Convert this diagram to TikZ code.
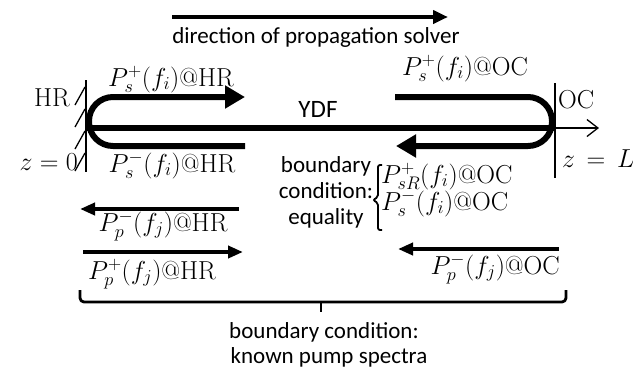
\RequirePackage{fix-cm}
\documentclass[tikz,border=0pt]{standalone}
\usepackage{fontspec}
\newfontfamily\carlito{Carlito}
\usetikzlibrary{arrows.meta}
\begin{document}
\begin{tikzpicture}[x=1pt,y=-1pt,
  mlab/.style={font=\fontsize{26}{30}\selectfont, inner sep=0pt},
  slab/.style={font=\carlito\fontsize{23}{27}\selectfont, inner sep=0pt},
  biglab/.style={font=\carlito\fontsize{25}{30}\selectfont, inner sep=0pt},
  sigline/.style={line width=6pt, -{Triangle[length=20pt,width=22pt]}},
  toparrow/.style={line width=4.5pt, -{Triangle[length=15pt,width=13pt]}},
  pump/.style={line width=4.5pt, -{Triangle[length=15pt,width=12pt]}},
  mirror/.style={line width=1.3pt},
  brk/.style={line width=2.8pt, line join=round}]
\useasboundingbox (0,0) rectangle (633,368);

% direction arrow
\coordinate (dirS) at (172,17);
\coordinate (dirE) at (448,17);
\draw[toparrow] (dirS) -- (dirE);
\node[slab, anchor=base] (dir) at (316,43) {direction of propagation solver};

% HR mirror
\coordinate (hrT) at (86,80);
\coordinate (hrB) at (86,172);
\draw[mirror] (hrT) -- (hrB);
\foreach \yy in {87,109,131,153} \draw[mirror] (85,\yy) -- ++(-10,18);

% OC mirror
\coordinate (ocT) at (555,83);
\coordinate (ocB) at (555,178);
\draw[mirror] (ocT) -- (ocB);

% fibre axis
\coordinate (axL) at (86,128);
\coordinate (axM) at (555,128);
\coordinate (axR) at (599,128);
\draw[line width=5.5pt] (axL) -- (axM);
\draw[mirror, -{Straight Barb[length=11pt,width=17pt]}] (axM) -- (axR);

% signal U-turns
\coordinate (lUb) at (245,146);
\coordinate (lUt) at (245,97);
\draw[sigline, rounded corners=24pt] (lUb) -- (89,146) -- (89,97) -- (lUt);
\coordinate (rUt) at (395,97);
\coordinate (rUb) at (396,146);
\draw[sigline, rounded corners=24pt] (rUt) -- (552,97) -- (552,146) -- (rUb);

\node[biglab, anchor=base] (ydf) at (318,117) {YDF};

% labels near mirrors
\node[mlab, anchor=base] (spHR) at (171,86) {$P_s^+(f_i)$@HR};
\node[mlab, anchor=base] (smHR) at (172,172) {$P_s^-(f_i)$@HR};
\node[mlab, anchor=base] (spOC) at (465,75) {$P_s^+(f_i)$@OC};
\node[mlab, anchor=base] (hr) at (52,106) {HR};
\node[mlab, anchor=base west] (oc) at (558,108) {OC};
\node[mlab, anchor=base east] (z0) at (78,170) {$z=0$};
\node[mlab, anchor=base west] (zL) at (562,167) {$z\,=\,L$};

% equality boundary condition
\node[slab, anchor=base] (bc1) at (326,172) {boundary};
\node[slab, anchor=base] (bc2) at (326,198) {condition:};
\node[slab, anchor=base] (bc3) at (326,224) {equality};
\draw[line width=1.8pt, rounded corners=2pt] (382,165) -- (378,165) -- (378,197) -- (373,200) -- (378,203) -- (378,230) -- (382,230);
\node[mlab, anchor=base west] (sR) at (381,183) {$P_{sR}^+(f_i)$@OC};
\node[mlab, anchor=base west] (sm) at (381,210) {$P_s^-(f_i)$@OC};

% pump arrows
\coordinate (p1s) at (239,209);
\coordinate (p1e) at (80,209);
\draw[pump] (p1s) -- (p1e);
\node[mlab, anchor=base] (ppmHR) at (163,231) {$P_p^-(f_j)$@HR};
\coordinate (p2s) at (83,252);
\coordinate (p2e) at (243,252);
\draw[pump] (p2s) -- (p2e);
\node[mlab, anchor=base] (pppHR) at (152,279) {$P_p^+(f_j)$@HR};
\coordinate (p3s) at (559,249);
\coordinate (p3e) at (398,249);
\draw[pump] (p3s) -- (p3e);
\node[mlab, anchor=base east] (ppmOC) at (560,274) {$P_p^-(f_j)$@OC};

% bottom bracket
\coordinate (bL) at (80,290);
\coordinate (bR) at (566,290);
\coordinate (bM) at (321,312);
\draw[brk, rounded corners=4pt] (bL) -- (80,302) -- (566,302) -- (bR);
\draw[brk] (321,302) -- (bM);
\node[slab, anchor=base] (kb1) at (324,338) {boundary condition:};
\node[slab, anchor=base] (kb2) at (329,363) {known pump spectra};
\end{tikzpicture}
\end{document}
